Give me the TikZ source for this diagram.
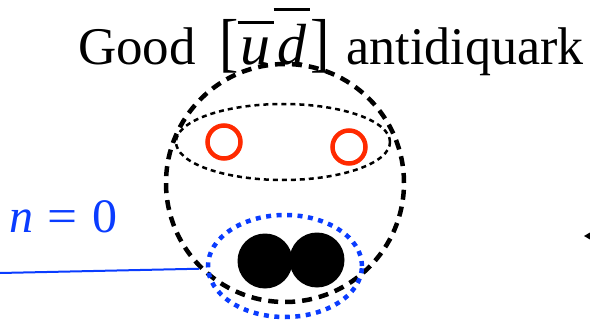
\documentclass[tikz,border=0pt]{standalone}
\usepackage{fontspec}
\setmainfont{Liberation Serif}
\usetikzlibrary{shapes.geometric}
\definecolor{qblue}{HTML}{0A3CFF}
\definecolor{qred}{HTML}{FF2A00}
\newcommand\barredglyph[3]{\vbox{\hrule height 3pt\kern #2\hbox{\makebox[#1]{#3}}}}
\tikzset{
  outerdash/.style={draw=black, line width=4.5pt, dash pattern=on 10pt off 7pt, circle, inner sep=0pt, minimum size=238pt},
  innerdot/.style={draw=black, line width=2.5pt, dash pattern=on 5pt off 4pt, ellipse, inner sep=0pt, minimum width=214pt, minimum height=76pt},
  bluedot/.style={draw=qblue, line width=4.5pt, dash pattern=on 5pt off 5.5pt, ellipse, inner sep=0pt, minimum width=154pt, minimum height=102pt},
  antiq/.style={draw=qred, line width=4.5pt, circle, inner sep=0pt, minimum size=33pt},
  quark/.style={fill=black, circle, inner sep=0pt, minimum size=55pt},
  bluelink/.style={draw=qblue, line width=2pt},
  titletext/.style={font=\fontsize{53}{60}\selectfont, inner sep=0pt, anchor=base west},
  labeltext/.style={font=\fontsize{48}{54}\selectfont, text=qblue, inner sep=0pt, anchor=base west}
}
\begin{document}
\begin{tikzpicture}[x=1pt,y=-1pt]
\useasboundingbox (0,0) rectangle (590,321);
\node[titletext] (title) at (78,65) {\makebox[141pt][l]{Good}{\fontsize{58}{60}\selectfont\scalebox{1}[1.12]{[}\hspace{-1pt}\barredglyph{36pt}{14pt}{\resizebox{30pt}{\height}{\itshape u}}\barredglyph{36.7pt}{13.5pt}{\itshape d}\scalebox{1}[1.12]{]}}\hspace{17pt}\resizebox{237pt}{\height}{antidiquark}};
\node[outerdash] (outer) at (285,183) {};
\node[innerdot] (pair) at (283,142) {};
\node[antiq] (ubar) at (224,142) {};
\node[antiq] (dbar) at (349,147) {};
\node[bluedot] (core) at (285,266) {};
\node[quark] (q1) at (265,261) {};
\node[quark] (q2) at (317,260) {};
\node[labeltext] (nlabel) at (9,233) {\makebox[38pt][l]{\itshape n}\makebox[45pt][l]{\resizebox{30pt}{\height}{=}}\resizebox{25pt}{\height}{0}};
\coordinate (lstart) at (0,273);
\draw[bluelink] (lstart) -- (outer.225);
\coordinate (tip) at (584,236);
\fill[black] (tip) -- ++(6,-3.5) -- ++(0,7) -- cycle;
\end{tikzpicture}
\end{document}
